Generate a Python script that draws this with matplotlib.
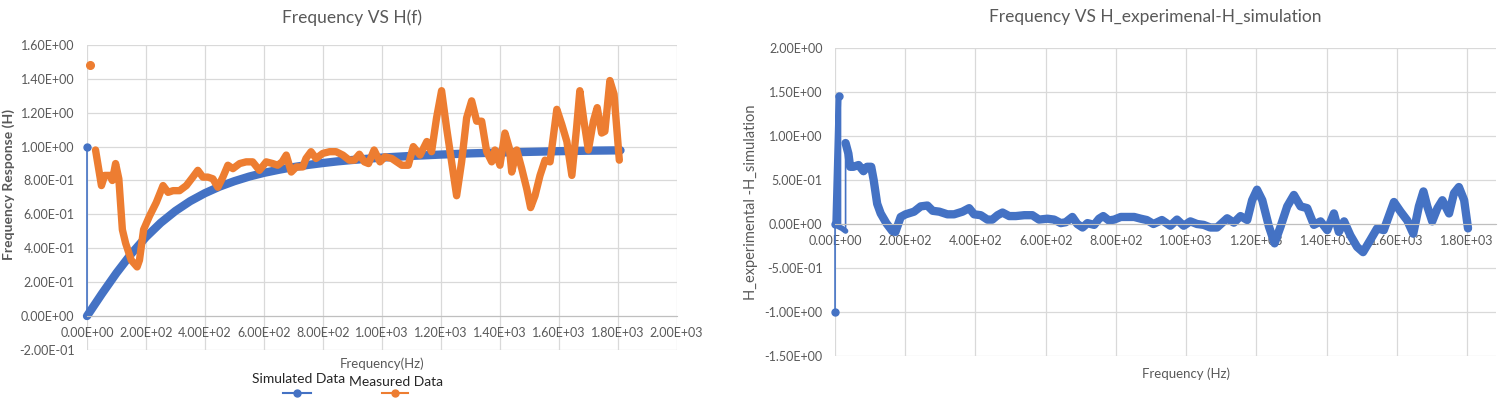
import numpy as np
import matplotlib
matplotlib.use('Agg')
import matplotlib.pyplot as plt
from matplotlib.lines import Line2D
from matplotlib.ticker import FuncFormatter, MultipleLocator

plt.rcParams['font.family'] = ['Lato', 'DejaVu Sans']

# ---------------- data ----------------
# simulated H(f): first point is the outlier at (0, 1.0)
sim_freq = [0, 0, 50, 100, 150, 200, 250, 300, 350, 400, 450, 500, 550, 600, 650, 700,
            750, 800, 850, 900, 950, 1000, 1100, 1200, 1300, 1400, 1500, 1600, 1700, 1810]
sim_vals = [1.0, 0.0, 0.130, 0.254, 0.367, 0.466, 0.550, 0.620, 0.678, 0.725, 0.764, 0.796,
            0.823, 0.845, 0.863, 0.879, 0.892, 0.903, 0.913, 0.921, 0.928, 0.935, 0.945,
            0.953, 0.960, 0.965, 0.969, 0.973, 0.976, 0.978]

# measured H(f): first point is the lone dot at ~1.48
meas_freq = [9, 29, 49, 60, 77, 86, 97, 108, 120, 131, 150, 170, 178, 192, 212, 235, 258,
             275, 292, 314, 337, 359, 376, 393, 410, 427, 444, 461, 478, 495, 518, 540, 562,
             585, 608, 630, 647, 662, 676, 693, 710, 732, 743, 760, 777, 800, 823, 845, 868,
             890, 907, 924, 941, 955, 974, 994, 1011, 1034, 1051, 1068, 1090, 1107, 1130,
             1153, 1169, 1186, 1203, 1220, 1237, 1254, 1271, 1288, 1305, 1322, 1339, 1356,
             1373, 1384, 1401, 1418, 1433, 1441, 1458, 1475, 1492, 1505, 1520, 1537, 1554,
             1571, 1594, 1611, 1628, 1645, 1661, 1672, 1686, 1701, 1718, 1731, 1746, 1757,
             1774, 1788, 1806]
meas_vals = [1.48, 0.98, 0.77, 0.83, 0.83, 0.80, 0.90, 0.81, 0.51, 0.43, 0.33, 0.29, 0.33,
             0.51, 0.59, 0.67, 0.77, 0.73, 0.74, 0.74, 0.77, 0.82, 0.86, 0.82, 0.82, 0.81,
             0.76, 0.82, 0.89, 0.87, 0.90, 0.91, 0.91, 0.86, 0.91, 0.90, 0.89, 0.91, 0.95,
             0.85, 0.88, 0.88, 0.93, 0.97, 0.93, 0.96, 0.97, 0.97, 0.95, 0.92, 0.92, 0.955,
             0.91, 0.90, 0.98, 0.91, 0.94, 0.93, 0.91, 0.89, 0.89, 1.00, 0.95, 1.03, 0.97,
             1.17, 1.33, 1.11, 0.91, 0.71, 0.91, 1.17, 1.27, 1.15, 1.15, 0.97, 0.91, 0.98,
             0.89, 1.08, 0.99, 0.85, 0.98, 0.87, 0.75, 0.64, 0.71, 0.83, 0.92, 0.91, 1.22,
             1.13, 1.03, 0.83, 1.11, 1.33, 1.15, 0.98, 1.15, 1.23, 1.08, 1.09, 1.39, 1.31,
             0.92]

# H_experimental - H_simulation
diff_freq = [0, 0, 10, 10, 20, 30, 30, 38, 43, 52, 67, 81, 91, 103, 110, 120, 130, 146,
             163, 172, 187, 201, 225, 244, 263, 278, 297, 320, 339, 363, 382, 396, 415, 434,
             448, 463, 477, 496, 515, 539, 562, 581, 605, 624, 643, 657, 676, 690, 705, 719,
             738, 752, 764, 780, 795, 814, 833, 852, 871, 888, 907, 931, 955, 974, 993, 1012,
             1031, 1050, 1069, 1088, 1117, 1136, 1155, 1174, 1188, 1202, 1217, 1236, 1252,
             1269, 1288, 1307, 1326, 1345, 1364, 1383, 1402, 1421, 1435, 1450, 1468, 1487,
             1504, 1525, 1544, 1563, 1592, 1611, 1630, 1647, 1663, 1676, 1687, 1701, 1716,
             1730, 1749, 1763, 1777, 1792, 1803]
diff_vals = [-1.0, 0.0, 1.46, -0.03, -0.05, -0.08, 0.92, 0.80, 0.65, 0.65, 0.67, 0.60, 0.65,
             0.65, 0.50, 0.23, 0.12, 0.01, -0.08, -0.09, 0.08, 0.11, 0.14, 0.20, 0.21, 0.15,
             0.14, 0.11, 0.11, 0.14, 0.18, 0.11, 0.10, 0.05, 0.05, 0.10, 0.13, 0.09, 0.09,
             0.10, 0.10, 0.05, 0.06, 0.05, 0.01, 0.02, 0.08, 0.0, -0.04, 0.01, -0.01, 0.06,
             0.09, 0.04, 0.05, 0.08, 0.08, 0.08, 0.06, 0.045, 0.0, 0.045, -0.02, 0.05, -0.02,
             0.03, 0.0, -0.01, -0.04, -0.04, 0.065, 0.015, 0.09, 0.045, 0.27, 0.39, 0.27,
             -0.03, -0.22, -0.03, 0.20, 0.33, 0.20, 0.18, -0.01, 0.03, -0.07, 0.12, -0.09,
             0.03, -0.13, -0.26, -0.32, -0.18, -0.05, -0.07, 0.25, 0.14, 0.04, -0.11, 0.20,
             0.37, 0.20, 0.03, 0.18, 0.27, 0.12, 0.35, 0.42, 0.27, -0.05]

BLUE = '#4472C4'
ORANGE = '#ED7D31'
GREY = '#595959'
GRID = '#D9D9D9'

sci = FuncFormatter(lambda v, p: '%.2E' % v)


def style_axis(ax):
    for s in ['top', 'right', 'left']:
        ax.spines[s].set_visible(False)
    ax.spines['bottom'].set_position(('data', 0))
    ax.spines['bottom'].set_color('#BFBFBF')
    ax.grid(True, color=GRID, lw=0.9)
    ax.set_axisbelow(True)
    ax.tick_params(length=0, labelsize=9, colors=GREY)
    ax.tick_params(axis='y', pad=9)
    ax.tick_params(axis='x', pad=8)
    ax.xaxis.set_major_formatter(sci)
    ax.yaxis.set_major_formatter(sci)


fig = plt.figure(figsize=(15, 4.05), dpi=100)

# ---------------- left: Frequency VS H(f) ----------------
ax1 = fig.add_axes([0.058, 0.136, 0.393, 0.753])
style_axis(ax1)
ax1.set_xlim(0, 2000)
ax1.set_ylim(-0.2, 1.6)
ax1.xaxis.set_major_locator(MultipleLocator(200))
ax1.yaxis.set_major_locator(MultipleLocator(0.2))

# simulated: thin spike from the outlier, thick main curve
ax1.plot(sim_freq[:2], sim_vals[:2], color=BLUE, lw=1.2, clip_on=False)
ax1.plot(sim_freq[0], sim_vals[0], 'o', color=BLUE, ms=5, clip_on=False)
ax1.plot(sim_freq[1:], sim_vals[1:], color=BLUE, lw=6, solid_capstyle='round', clip_on=False)
# measured
ax1.plot(meas_freq[0], meas_vals[0], 'o', color=ORANGE, ms=5.5, clip_on=False)
ax1.plot(meas_freq[1:], meas_vals[1:], color=ORANGE, lw=5.3, solid_capstyle='round',
         solid_joinstyle='round', clip_on=False)

ax1.set_title('Frequency VS H(f)', fontsize=12.5, color=GREY, x=0.45, y=1.0, pad=16)
ax1.set_xlabel('Frequency(Hz)', fontsize=9.5, color=GREY)
ax1.xaxis.set_label_coords(0.5, -0.026)
ax1.set_ylabel('Frequency Response (H)', fontsize=10, color=GREY, fontweight='bold')
ax1.yaxis.set_label_coords(-0.122, 0.544)

# Excel-style legend: label over marker
fig.text(299 / 1500, 1 - 379 / 405, 'Simulated Data', ha='center', va='center',
         fontsize=10, color='#262626')
fig.text(396 / 1500, 1 - 382 / 405, 'Measured Data', ha='center', va='center',
         fontsize=10, color='#262626')
fig.add_artist(Line2D([283 / 1500, 311 / 1500], [1 - 393 / 405] * 2, color=BLUE, lw=1.5,
                      transform=fig.transFigure))
fig.add_artist(Line2D([297 / 1500], [1 - 393 / 405], color=BLUE, marker='o', ms=5,
                      transform=fig.transFigure))
fig.add_artist(Line2D([382 / 1500, 408 / 1500], [1 - 393 / 405] * 2, color=ORANGE, lw=1.5,
                      transform=fig.transFigure))
fig.add_artist(Line2D([395 / 1500], [1 - 393 / 405], color=ORANGE, marker='o', ms=5,
                      transform=fig.transFigure))

# ---------------- right: difference ----------------
ax2 = fig.add_axes([0.5567, 0.121, 0.4407, 0.7605])
style_axis(ax2)
ax2.set_xlim(0, 1883)
ax2.set_ylim(-1.5, 2.0)
ax2.xaxis.set_major_locator(MultipleLocator(200))
ax2.yaxis.set_major_locator(MultipleLocator(0.5))

ax2.plot(diff_freq, diff_vals, color=BLUE, lw=1.2, clip_on=False)
ax2.plot(diff_freq[:3], diff_vals[:3], 'o', color=BLUE, ms=5, clip_on=False)
ax2.plot(diff_freq[1:6], diff_vals[1:6], color=BLUE, lw=4, solid_capstyle='round',
         clip_on=False)
ax2.plot(diff_freq[6:], diff_vals[6:], color=BLUE, lw=6, solid_capstyle='round',
         solid_joinstyle='round')

ax2.set_title('Frequency VS H_experimenal-H_simulation', fontsize=12.5, color=GREY,
              x=0.485, pad=19)
ax2.set_xlabel('Frequency (Hz)', fontsize=9.5, color=GREY)
ax2.xaxis.set_label_coords(0.531, -0.036)
ax2.set_ylabel('H_experimental -H_simulation', fontsize=10.5, color=GREY)
ax2.yaxis.set_label_coords(-0.117, 0.5)

plt.savefig('out.png', dpi=100)
